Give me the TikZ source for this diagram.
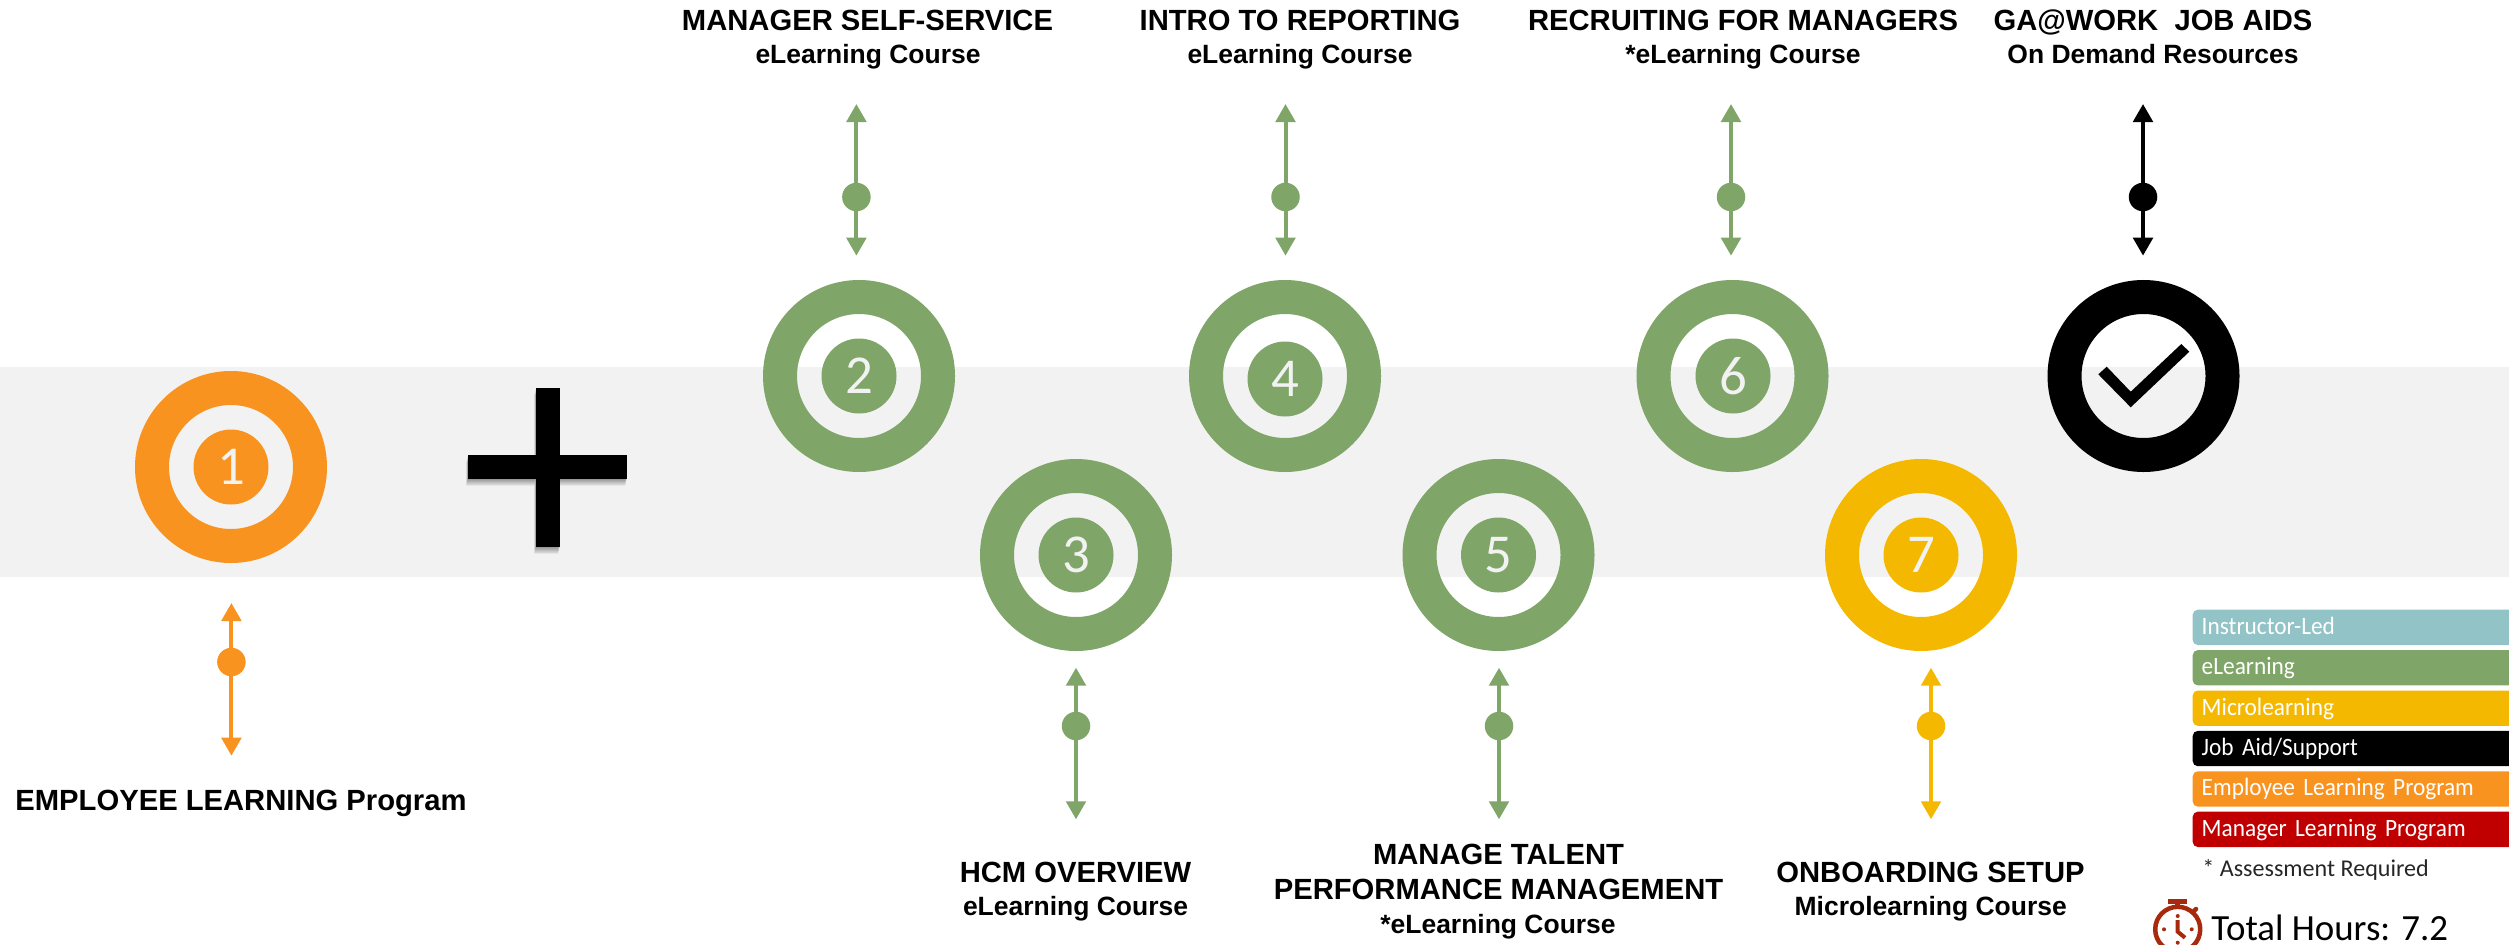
\documentclass[tikz,border=0pt]{standalone}
\usepackage{fontspec}
\setmainfont{Liberation Sans}
\newfontfamily\calfont{Carlito}
\newfontfamily\legfont[FakeStretch=0.935]{Carlito}
\usepackage{tikz}
\usetikzlibrary{arrows.meta}
\usetikzlibrary{positioning}

\definecolor{bandgray}{HTML}{F2F2F2}
\definecolor{elgreen}{HTML}{7FA568}
\definecolor{micyellow}{HTML}{F4B800}
\definecolor{emporange}{HTML}{F89320}
\definecolor{insteal}{HTML}{92C3C7}
\definecolor{mgrred}{HTML}{C00000}
\definecolor{clockred}{HTML}{A8290C}

\tikzset{
  ringnode/.style={circle,draw=#1,line width=0.34cm,minimum size=1.58cm,inner sep=0pt},
  discnode/.style={circle,fill=#1,minimum size=0.75cm,inner sep=0pt,text=bandgray,
    font=\calfont\fontsize{15.6}{16}\selectfont},
  dotnode/.style={circle,fill=#1,minimum size=0.285cm,inner sep=0pt,outer sep=0pt},
  linkline/.style={draw=#1,line width=0.04cm,-{Triangle[width=0.194cm,length=0.18cm]}},
  titlenode/.style={anchor=base,inner sep=0pt,font=\fontsize{8.31}{10}\selectfont\bfseries},
  subnode/.style={anchor=base,inner sep=0pt,font=\fontsize{7.53}{9}\selectfont\bfseries},
  legendbar/.style={rectangle,rounded corners=0.05cm,fill=#1,text=white,outer sep=0pt,
    minimum width=4cm,inner xsep=0.09cm,inner ysep=0pt,text width=3.82cm,
    text height=0.246cm,text depth=0.107cm,font=\legfont\fontsize{7.1}{8}\selectfont},
  node distance=0.051cm
}

\begin{document}
\begin{tikzpicture}
\useasboundingbox (0,0) rectangle (25.09,-9.44);
\clip (0,0) rectangle (25.09,-9.44);

% grey band
\fill[bandgray] (0,-3.67) rectangle (25.09,-5.77);

% plus sign with its soft shadow
\foreach \s in {1,...,6}
  \fill[black,opacity=0.07,shift={(-0.003*\s,-0.011*\s)}]
    (4.68,-4.55) rectangle (6.27,-4.79) (5.36,-3.88) rectangle (5.60,-5.47);
\fill[black] (4.68,-4.55) rectangle (6.27,-4.79);
\fill[black] (5.36,-3.88) rectangle (5.60,-5.47);

% targets
\node[ringnode=emporange] (r1) at (2.31,-4.67) {};
\node[discnode=emporange] (d1) at (2.31,-4.67) {1};
\node[ringnode=elgreen] (r2) at (8.59,-3.76) {};
\node[discnode=elgreen] (d2) at (8.59,-3.76) {2};
\node[ringnode=elgreen] (r3) at (10.76,-5.55) {};
\node[discnode=elgreen] (d3) at (10.76,-5.55) {3};
\node[ringnode=elgreen] (r4) at (12.85,-3.76) {};
\node[discnode=elgreen] (d4) at (12.85,-3.79) {4};
\node[ringnode=elgreen] (r5) at (14.985,-5.55) {};
\node[discnode=elgreen] (d5) at (14.985,-5.55) {5};
\node[ringnode=elgreen] (r6) at (17.325,-3.76) {};
\node[discnode=elgreen] (d6) at (17.33,-3.76) {6};
\node[ringnode=micyellow] (r7) at (19.21,-5.55) {};
\node[discnode=micyellow] (d7) at (19.21,-5.55) {7};
\node[ringnode=black] (r8) at (21.435,-3.76) {};

% check mark
\fill[black] (20.983,-3.743) -- (21.067,-3.667) -- (21.307,-3.917) -- (21.813,-3.44)
  -- (21.893,-3.517) -- (21.307,-4.073) -- cycle;

% arrows
\coordinate (t1) at (2.314,-6.03);
\coordinate (b1) at (2.314,-7.557);
\node[dotnode=emporange] (p1) at (2.314,-6.62) {};
\draw[linkline=emporange] (p1) -- (t1);
\draw[linkline=emporange] (p1) -- (b1);

\coordinate (t2) at (8.564,-1.04);
\coordinate (b2) at (8.564,-2.557);
\node[dotnode=elgreen] (p2) at (8.564,-1.97) {};
\draw[linkline=elgreen] (p2) -- (t2);
\draw[linkline=elgreen] (p2) -- (b2);

\coordinate (t3) at (10.76,-6.677);
\coordinate (b3) at (10.76,-8.193);
\node[dotnode=elgreen] (p3) at (10.76,-7.26) {};
\draw[linkline=elgreen] (p3) -- (t3);
\draw[linkline=elgreen] (p3) -- (b3);

\coordinate (t4) at (12.855,-1.04);
\coordinate (b4) at (12.855,-2.557);
\node[dotnode=elgreen] (p4) at (12.855,-1.97) {};
\draw[linkline=elgreen] (p4) -- (t4);
\draw[linkline=elgreen] (p4) -- (b4);

\coordinate (t5) at (14.99,-6.677);
\coordinate (b5) at (14.99,-8.193);
\node[dotnode=elgreen] (p5) at (14.99,-7.26) {};
\draw[linkline=elgreen] (p5) -- (t5);
\draw[linkline=elgreen] (p5) -- (b5);

\coordinate (t6) at (17.31,-1.04);
\coordinate (b6) at (17.31,-2.557);
\node[dotnode=elgreen] (p6) at (17.31,-1.97) {};
\draw[linkline=elgreen] (p6) -- (t6);
\draw[linkline=elgreen] (p6) -- (b6);

\coordinate (t7) at (19.31,-6.677);
\coordinate (b7) at (19.31,-8.193);
\node[dotnode=micyellow] (p7) at (19.31,-7.26) {};
\draw[linkline=micyellow] (p7) -- (t7);
\draw[linkline=micyellow] (p7) -- (b7);

\coordinate (t8) at (21.43,-1.04);
\coordinate (b8) at (21.43,-2.557);
\node[dotnode=black] (p8) at (21.43,-1.97) {};
\draw[linkline=black] (p8) -- (t8);
\draw[linkline=black] (p8) -- (b8);

% labels
\node[titlenode] (n1) at (2.41,-8.107) {EMPLOYEE LEARNING Program};
\node[titlenode] (n2) at (8.675,-0.31) {MANAGER SELF-SERVICE};
\node[subnode] (s2) at (8.68,-0.635) {eLearning Course};
\node[titlenode] (n3) at (10.755,-8.82) {HCM OVERVIEW};
\node[subnode] (s3) at (10.755,-9.15) {eLearning Course};
\node[titlenode] (n4) at (13.0,-0.31) {INTRO TO REPORTING};
\node[subnode] (s4) at (13.0,-0.635) {eLearning Course};
\node[titlenode] (n5) at (14.985,-8.64) {MANAGE TALENT};
\node[titlenode] (m5) at (14.985,-8.99) {PERFORMANCE MANAGEMENT};
\node[subnode] (s5) at (14.98,-9.33) {*eLearning Course};
\node[titlenode] (n6) at (17.43,-0.31) {RECRUITING FOR MANAGERS};
\node[subnode] (s6) at (17.43,-0.635) {*eLearning Course};
\node[titlenode] (n7) at (19.305,-8.82) {ONBOARDING SETUP};
\node[subnode] (s7) at (19.307,-9.15) {Microlearning Course};
\node[titlenode] (n8) at (21.53,-0.31) {GA@WORK\ \ JOB AIDS};
\node[subnode] (s8) at (21.53,-0.635) {On Demand Resources};

% legend
\node[legendbar=insteal,anchor=north west] (l1) at (21.927,-6.097) {Instructor-Led};
\node[legendbar=elgreen,below=of l1] (l2) {eLearning};
\node[legendbar=micyellow,below=of l2] (l3) {Microlearning};
\node[legendbar=black,below=of l3] (l4) {Job Aid/Support};
\node[legendbar=emporange,below=of l4] (l5) {Employee Learning Program};
\node[legendbar=mgrred,below=of l5] (l6) {Manager Learning Program};
\node[anchor=base west,inner sep=0pt,text=black!85,font=\calfont\fontsize{6.85}{8}\selectfont]
  (a1) at (22.017,-8.76) {* Assessment Required};
\node[anchor=base west,inner sep=0pt,font=\calfont\fontsize{10.5}{12}\selectfont]
  (h1) at (22.107,-9.40) {Total Hours: 7.2};

% stopwatch
\coordinate (w) at (21.777,-9.293);
\draw[clockred,line width=0.045cm] (w) circle (0.225cm);
\fill[clockred] (21.68,-8.993) rectangle (21.867,-9.04);
\fill[clockred] (21.75,-9.04) rectangle (21.80,-9.08);
\draw[clockred,line width=0.045cm,line cap=round] (21.93,-9.12) -- (21.96,-9.09);
\draw[clockred,line width=0.04cm] (21.777,-9.20) -- (21.777,-9.317) -- (21.85,-9.377);
\fill[clockred] (21.777,-9.16) circle (0.02cm);
\fill[clockred] (21.64,-9.293) circle (0.02cm);
\fill[clockred] (21.917,-9.293) circle (0.02cm);
\fill[clockred] (21.777,-9.427) circle (0.02cm);
\end{tikzpicture}
\end{document}
